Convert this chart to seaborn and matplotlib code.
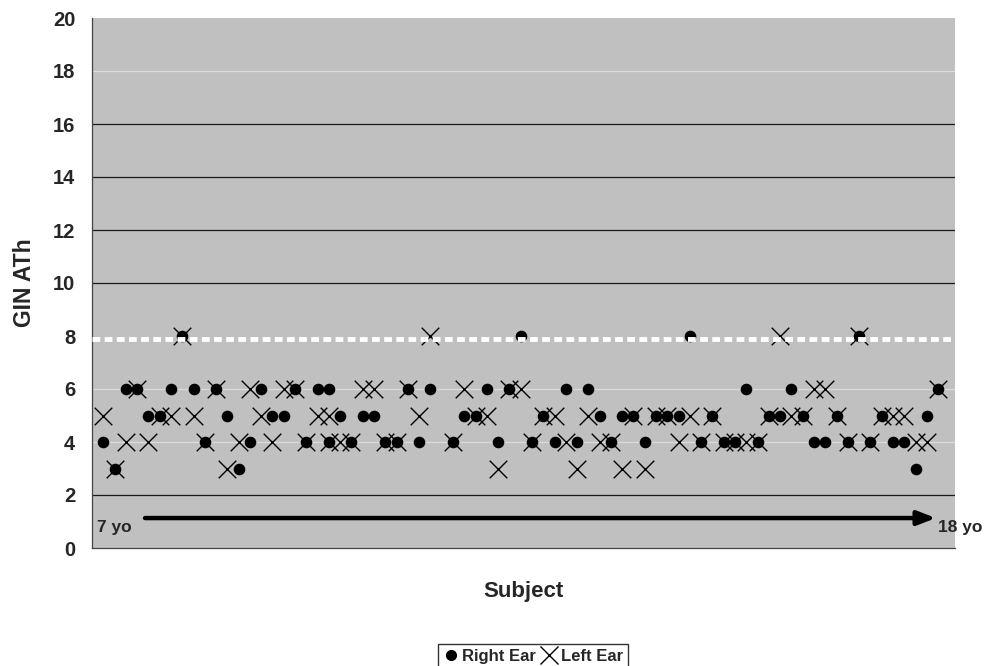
import matplotlib
matplotlib.use("Agg")
import matplotlib.pyplot as plt
import seaborn as sns
import pandas as pd
from matplotlib.lines import Line2D

# ---- data (subjects ordered by age, 7 yo -> 18 yo) ----
subject_rank = ([*range(1, 22)] + [21] + [*range(22, 31)] + [*range(32, 76)])
right_ear = [4, 3, 6, 6, 5, 5, 6, 8, 6, 4,
             6, 5, 3, 4, 6, 5, 5, 6, 4, 6,
             6, 4,
             5, 4, 5, 5, 4, 4, 6, 4, 6,
             4, 5, 5, 6, 4, 6, 8, 4, 5,
             4, 6, 4, 6, 5, 4, 5, 5, 4, 5,
             5, 5, 8, 4, 5, 4, 4, 6, 4, 5,
             5, 6, 5, 4, 4, 5, 4, 8, 4, 5,
             4, 4, 3, 5, 6]
left_ear = [5, 3, 4, 6, 4, 5, 5, 8, 5, 4,
            6, 3, 4, 6, 5, 4, 6, 6, 4, 5,
            5, 4,
            4, 4, 6, 6, 4, 4, 6, 5, 8,
            4, 6, 5, 5, 3, 6, 6, 4, 5,
            5, 4, 3, 5, 4, 4, 3, 5, 3, 5,
            5, 4, 5, 4, 5, 4, 4, 4, 4, 5,
            8, 5, 5, 6, 6, 5, 4, 8, 4, 5,
            5, 5, 4, 4, 6]
y_ticks = [0, 2, 4, 6, 8, 10, 12, 14, 16, 18, 20]
reference_level = 7.9
start_label = "7 yo"
end_label = "18 yo"

df = pd.DataFrame({"rank": subject_rank, "right": right_ear, "left": left_ear})

sns.set_theme(style="white")
plt.rcParams["font.family"] = ["Liberation Sans", "DejaVu Sans"]
plt.rcParams["font.weight"] = "bold"

fig = plt.figure(figsize=(9.87, 6.66), dpi=100)
ax = fig.add_axes([92 / 987, 118 / 666, 863 / 987, 530 / 666])
ax.set_facecolor("#c0c0c0")

# gridlines (dark and light as in the reference)
for yv in [2, 10, 12, 14, 16]:
    ax.axhline(yv, color="#1a1a1a", lw=0.9, zorder=1)
for yv in [4, 6, 18]:
    ax.axhline(yv, color="#dcdcdc", lw=0.9, zorder=1)

sns.scatterplot(data=df, x="rank", y="right", ax=ax, color="black",
                marker="o", s=70, edgecolor="black", linewidth=0, zorder=3)
sns.scatterplot(data=df, x="rank", y="left", ax=ax, color="black",
                marker="x", s=160, linewidth=1.0, zorder=4)

# dashed white reference line at 8
ax.axhline(reference_level, color="white", lw=3.5, ls=(0, (1.6, 0.9)), zorder=5)

# age arrow
ax.annotate("", xy=(74.8, 1.13), xytext=(4.7, 1.13),
            arrowprops=dict(arrowstyle="-|>,head_length=0.9,head_width=0.35",
                            color="black", lw=3.2, shrinkA=0, shrinkB=0),
            zorder=6)
ax.text(0.45, 0.76, start_label, fontsize=12.5, fontweight="bold",
        ha="left", va="center", zorder=6)
ax.text(75.0, 0.76, end_label, fontsize=12.5, fontweight="bold",
        ha="left", va="center", zorder=6, clip_on=False)

ax.set_xlim(0, 76.5)
ax.set_ylim(0, 20)
ax.set_yticks(y_ticks)
ax.set_yticklabels([str(t) for t in y_ticks], fontsize=14.5, fontweight="bold")
ax.set_xticks([])
ax.tick_params(axis="y", direction="out", length=7, width=0.9, color="#333333", pad=5)
ax.set_xlabel("Subject", fontsize=16, fontweight="bold", labelpad=24)
ax.set_ylabel("GIN ATh", fontsize=16.5, fontweight="bold", labelpad=12)

for side in ["top", "right"]:
    ax.spines[side].set_visible(False)
ax.spines["left"].set_color("#444444")
ax.spines["left"].set_linewidth(0.9)
ax.spines["bottom"].set_color("#444444")
ax.spines["bottom"].set_linewidth(0.9)

handles = [
    Line2D([], [], marker="o", color="black", ls="none", markersize=7),
    Line2D([], [], marker="x", color="black", ls="none", markersize=13, markeredgewidth=1.0),
]
leg = fig.legend(handles, ["Right Ear", "Left Ear"], loc="lower center",
                 bbox_to_anchor=(0.54, -0.004), ncol=2, frameon=True,
                 fancybox=False, edgecolor="black", fontsize=12,
                 handletextpad=0.25, columnspacing=0.3, handlelength=0.9,
                 borderpad=0.3, borderaxespad=0.0)
leg.get_frame().set_linewidth(1.0)
for t in leg.get_texts():
    t.set_fontweight("bold")

fig.savefig("out.png", dpi=100, facecolor="white")
